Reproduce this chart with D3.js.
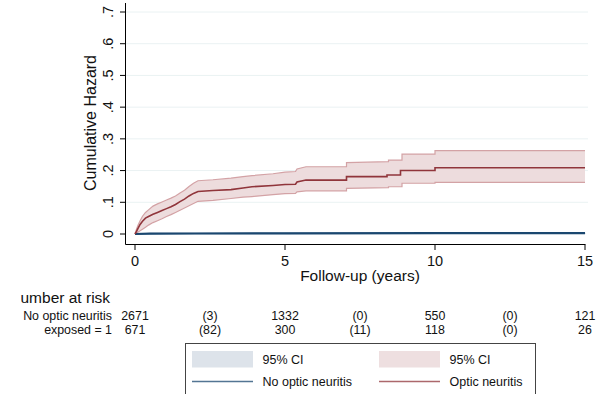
<!DOCTYPE html>
<html lang="en">
  <head>
    <meta charset="utf-8"/>
    <title>Cumulative hazard</title>
    <script src="https://cdnjs.cloudflare.com/ajax/libs/d3/7.8.5/d3.min.js"></script>
    <style>
      body { margin: 0; background: #fff; }
      svg { font-family: "Liberation Sans", Arial, Helvetica, sans-serif; }
    </style>
  </head>
  <body>
    <div id="chart"></div>
    <script type="text/javascript">

      // optic neuritis group: time (years) and cumulative hazard estimate
      // (repeated times mark the visible vertical jumps)
      var onTime  = [0, 0.05, 0.1, 0.17, 0.25, 0.35, 0.45, 0.6, 0.75, 0.9, 1.05, 1.2, 1.35, 1.5, 1.65, 1.8, 1.95, 2.1, 2.6, 3.2, 3.6, 3.9, 4.6, 5.0, 5.35, 5.4, 5.7, 7.05, 7.05, 8.4, 8.4, 8.85, 8.85, 10.0, 10.0, 15];
      var onHaz   = [0, 0.008, 0.018, 0.030, 0.040, 0.050, 0.055, 0.062, 0.068, 0.074, 0.080, 0.086, 0.093, 0.102, 0.110, 0.120, 0.128, 0.134, 0.137, 0.140, 0.145, 0.149, 0.153, 0.156, 0.157, 0.164, 0.170, 0.170, 0.181, 0.181, 0.186, 0.186, 0.200, 0.200, 0.209, 0.209];
      // 95% CI band of the optic neuritis group
      var ciTime  = [0, 0.05, 0.1, 0.17, 0.25, 0.35, 0.45, 0.6, 0.75, 0.9, 1.05, 1.2, 1.35, 1.5, 1.65, 1.8, 1.95, 2.1, 2.6, 3.2, 3.6, 3.9, 4.6, 5.0, 5.35, 5.4, 5.7, 7.05, 7.05, 8.45, 8.45, 8.9, 8.9, 10.0, 10.0, 15];
      var onUpper = [0, 0.015, 0.028, 0.042, 0.056, 0.068, 0.076, 0.088, 0.095, 0.101, 0.107, 0.113, 0.120, 0.129, 0.138, 0.150, 0.160, 0.168, 0.171, 0.176, 0.181, 0.184, 0.190, 0.195, 0.197, 0.205, 0.212, 0.212, 0.225, 0.228, 0.233, 0.233, 0.252, 0.252, 0.263, 0.263];
      var onLower = [0, 0.003, 0.006, 0.010, 0.015, 0.021, 0.028, 0.036, 0.042, 0.048, 0.055, 0.061, 0.068, 0.075, 0.082, 0.089, 0.096, 0.103, 0.106, 0.112, 0.116, 0.118, 0.124, 0.127, 0.128, 0.133, 0.136, 0.136, 0.144, 0.146, 0.149, 0.149, 0.160, 0.160, 0.163, 0.163];

      // no optic neuritis group
      var noTime  = [0, 0.5, 2, 5, 10, 15];
      var noHaz   = [0, 0.001, 0.0015, 0.002, 0.0025, 0.0025];
      var noLower = [0, 0.0004, 0.0008, 0.0012, 0.0015, 0.0015];
      var noUpper = [0, 0.002, 0.0025, 0.003, 0.0035, 0.0035];

      // axis ticks
      var xTicks = [0, 5, 10, 15];
      var yTicks = [0, 0.1, 0.2, 0.3, 0.4, 0.5, 0.6, 0.7];

      // number at risk table
      var riskTimes = [0, 2.5, 5, 7.5, 10, 12.5, 15];
      var riskLabels = ["No optic neuritis", "exposed = 1"];
      var riskNo = ["2671", "(3)", "1332", "(0)", "550", "(0)", "121"];
      var riskOn = ["671", "(82)", "300", "(11)", "118", "(0)", "26"];

      var navy = "#1a476f";
      var maroon = "#90353b";

      var w = 598, h = 394;

      var svg = d3.select("#chart")
        .append("svg")
        .attr("width", w)
        .attr("height", h);

      var x = d3.scaleLinear().domain([0, 15]).range([135, 585]);
      var y = d3.scaleLinear().domain([0, 0.7]).range([234, 12]);

      // stata style labels: 0, .1, .2 ...
      function fmt(v) {
        if (v === 0) return "0";
        return d3.format(".1f")(v).replace(/^0/, "");
      }

      // gridlines
      svg.append("g")
        .selectAll("line")
        .data(yTicks.slice(1))
        .enter()
        .append("line")
        .attr("x1", 126)
        .attr("x2", 588)
        .attr("y1", function(d) { return y(d); })
        .attr("y2", function(d) { return y(d); })
        .attr("stroke", "#eaf2f3")
        .attr("stroke-width", 1);

      function zip(t, v) {
        return t.map(function(d, i) { return [d, v[i]]; });
      }
      function zip3(t, lo, hi) {
        return t.map(function(d, i) { return [d, lo[i], hi[i]]; });
      }

      var area = d3.area()
        .x(function(d) { return x(d[0]); })
        .y0(function(d) { return y(d[1]); })
        .y1(function(d) { return y(d[2]); });

      var line = d3.line()
        .x(function(d) { return x(d[0]); })
        .y(function(d) { return y(d[1]); });

      // CI bands
      svg.append("path")
        .attr("d", area(zip3(ciTime, onLower, onUpper)))
        .attr("fill", "#eddcdd");
      [onUpper, onLower].forEach(function(arr) {
        svg.append("path")
          .attr("d", line(zip(ciTime, arr)))
          .attr("fill", "none")
          .attr("stroke", "#d3a2a5")
          .attr("stroke-width", 1.2);
      });

      svg.append("path")
        .attr("d", area(zip3(noTime, noLower, noUpper)))
        .attr("fill", "#dde3ea")
        .attr("stroke", "#9fb2c6")
        .attr("stroke-width", 1);

      // estimates
      svg.append("path")
        .attr("d", line(zip(noTime, noHaz)))
        .attr("fill", "none")
        .attr("stroke", navy)
        .attr("stroke-width", 2.2);
      svg.append("path")
        .attr("d", line(zip(onTime, onHaz)))
        .attr("fill", "none")
        .attr("stroke", maroon)
        .attr("stroke-width", 1.6);

      // y axis
      svg.append("line")
        .attr("x1", 125.5).attr("x2", 125.5)
        .attr("y1", 3).attr("y2", 244.5)
        .attr("stroke", "#000").attr("stroke-width", 1);
      var yAx = svg.append("g");
      yAx.selectAll("line")
        .data(yTicks)
        .enter()
        .append("line")
        .attr("x1", 120).attr("x2", 125.5)
        .attr("y1", function(d) { return y(d); })
        .attr("y2", function(d) { return y(d); })
        .attr("stroke", "#000");
      yAx.selectAll("text")
        .data(yTicks)
        .enter()
        .append("text")
        .attr("transform", function(d) { return "translate(113," + y(d) + ") rotate(-90)"; })
        .attr("text-anchor", "middle")
        .attr("font-size", 14.5)
        .attr("fill", "#111")
        .text(fmt);

      svg.append("text")
        .attr("transform", "translate(96,123) rotate(-90)")
        .attr("text-anchor", "middle")
        .attr("font-size", 16)
        .attr("fill", "#111")
        .text("Cumulative Hazard");

      // x axis
      svg.append("line")
        .attr("x1", 125.5).attr("x2", 585.5)
        .attr("y1", 244.5).attr("y2", 244.5)
        .attr("stroke", "#000").attr("stroke-width", 1);
      var xAx = svg.append("g");
      xAx.selectAll("line")
        .data(xTicks)
        .enter()
        .append("line")
        .attr("x1", function(d) { return x(d); })
        .attr("x2", function(d) { return x(d); })
        .attr("y1", 244.5).attr("y2", 250)
        .attr("stroke", "#000");
      xAx.selectAll("text")
        .data(xTicks)
        .enter()
        .append("text")
        .attr("x", function(d) { return x(d); })
        .attr("y", 266)
        .attr("text-anchor", "middle")
        .attr("font-size", 14.5)
        .attr("fill", "#111")
        .text(function(d) { return d; });

      svg.append("text")
        .attr("x", 360)
        .attr("y", 281)
        .attr("text-anchor", "middle")
        .attr("font-size", 15.5)
        .attr("fill", "#111")
        .text("Follow-up (years)");

      // number at risk: title is cut at the left edge in the original
      svg.append("clipPath")
        .attr("id", "riskClip")
        .append("rect")
        .attr("x", 21).attr("y", 285).attr("width", 200).attr("height", 22);
      var nText = svg.append("text")
        .attr("y", 303)
        .attr("font-size", 15.5)
        .attr("fill", "#111")
        .attr("clip-path", "url(#riskClip)")
        .text("Number at risk");
      var nW = nText.node().getSubStringLength(0, 1);
      nText.attr("x", 21.5 - nW - 1);

      var rowY = [319.5, 334];
      var rows = [riskNo, riskOn];
      riskLabels.forEach(function(lab, r) {
        svg.append("text")
          .attr("x", 112)
          .attr("y", rowY[r])
          .attr("text-anchor", "end")
          .attr("font-size", 12.4)
          .attr("fill", "#111")
          .text(lab);
        svg.append("g")
          .selectAll("text")
          .data(rows[r])
          .enter()
          .append("text")
          .attr("x", function(d, i) { return x(riskTimes[i]); })
          .attr("y", rowY[r])
          .attr("text-anchor", "middle")
          .attr("font-size", 12.4)
          .attr("fill", "#111")
          .text(function(d) { return d; });
      });

      // legend
      var lg = svg.append("g");
      lg.append("rect")
        .attr("x", 185.5).attr("y", 343.5)
        .attr("width", 350).attr("height", 70)
        .attr("fill", "#fff")
        .attr("stroke", "#444");
      var legItems = [
        { sx: 192, tx: 262.5, fill: "#dde3ea", col: navy, name: "No optic neuritis" },
        { sx: 379, tx: 449.5, fill: "#eedfe0", col: maroon, name: "Optic neuritis" }
      ];
      legItems.forEach(function(it) {
        lg.append("rect")
          .attr("x", it.sx).attr("y", 351)
          .attr("width", 61).attr("height", 16.5)
          .attr("fill", it.fill);
        lg.append("text")
          .attr("x", it.tx).attr("y", 363.5)
          .attr("font-size", 12.5)
          .attr("fill", "#111")
          .text("95% CI");
        lg.append("line")
          .attr("x1", it.sx).attr("x2", it.sx + 61)
          .attr("y1", 381.5).attr("y2", 381.5)
          .attr("stroke", it.col)
          .attr("stroke-opacity", 0.75)
          .attr("stroke-width", 1.3);
        lg.append("text")
          .attr("x", it.tx).attr("y", 386)
          .attr("font-size", 12.5)
          .attr("fill", "#111")
          .text(it.name);
      });
    </script>
  </body>
</html>
